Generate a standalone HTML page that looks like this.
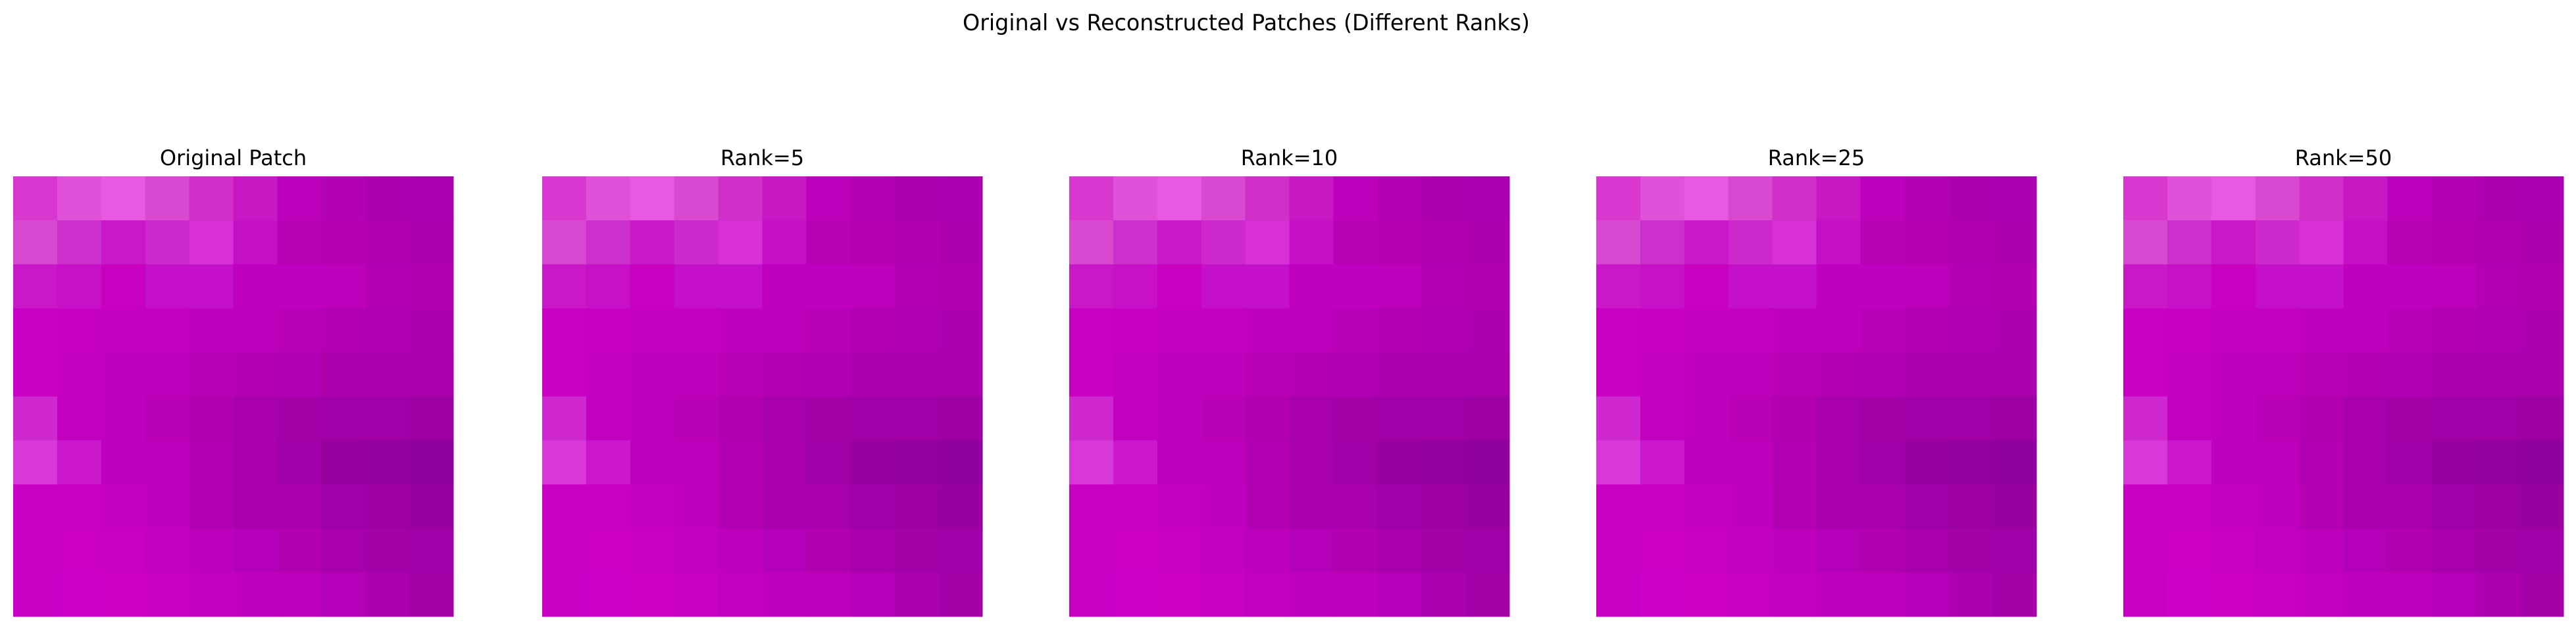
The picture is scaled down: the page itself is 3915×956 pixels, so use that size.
<!DOCTYPE html>
<html><head><meta charset="utf-8"><style>
html,body{margin:0;padding:0;background:#fff;width:3915px;height:956px;overflow:hidden}
svg{display:block}
text{font-family:"DejaVu Sans","Liberation Sans",sans-serif;fill:#000}
</style></head><body>
<svg id="fig" width="3915" height="956" viewBox="0 0 3915 956">
<text x="1894" y="46" font-size="34" text-anchor="middle" textLength="862" lengthAdjust="spacingAndGlyphs">Original vs Reconstructed Patches (Different Ranks)</text>
<g id="panels"></g>
</svg>
<script>
const titles = ["Original Patch","Rank=5","Rank=10","Rank=25","Rank=50"];
const panelLeft = [20, 824, 1625, 2426, 3227];
const grid = [
["d838d0","e050d8","e858e0","d848d0","d030c8","c818c4","bc00bc","b400b4","ac00b0","a800b0"],
["d848d0","cc30cc","c818c8","cc28cc","d830d8","c410c4","b800b4","b400b0","b000b0","ac00b0"],
["c818c8","c810c8","c800c0","c410c8","c410c8","c000c0","c000c0","bc00bc","b400b4","b000b0"],
["c800c4","c600c2","c400c0","c200c0","c000c0","bc00bc","b800b8","b400b4","b000b4","ac00b0"],
["c800c4","c400c0","c000c0","bc00bc","b800b8","b400b4","b000b4","ac00ac","a800ac","a800ac"],
["d028d0","c400c0","c000c0","b800b8","b000b0","a800ac","a400a8","a000a8","a000a8","9c00a4"],
["d838d8","cc18cc","c000c0","bc00bc","b400b4","a800ac","a000a8","9800a0","9400a0","9000a0"],
["c800c4","c800c4","c400c0","c000c0","b400b4","a800ac","a800ac","a000a8","9c00a4","9800a0"],
["c800c4","cc00c4","c800c0","c400c0","bc00bc","b400b8","b000b0","a800ac","a400a8","a000a8"],
["c800c4","cc00c8","cc00c4","c800c4","c400c0","c000c0","bc00bc","b400b8","ac00b0","a400a8"]
];
const NS = "http://www.w3.org/2000/svg";
const g = document.getElementById('panels');
const top0 = 268, size = 669;
titles.forEach((t, p) => {
  const x0 = panelLeft[p];
  const pg = document.createElementNS(NS, 'g');
  
  
  const n = grid.length, cs = size / n;
  grid.forEach((row, r) => row.forEach((c, k) => {
    const rc = document.createElementNS(NS, 'rect');
    
    
    rc.setAttribute('x', x0 + k * cs);
    rc.setAttribute('y', top0 + r * cs);
    rc.setAttribute('width', cs + 0.5);
    rc.setAttribute('height', cs + 0.5);
    rc.setAttribute('fill', '#' + c);
    pg.appendChild(rc);
  }));
  const tx = document.createElementNS(NS, 'text');
  
  
  tx.setAttribute('x', x0 + size / 2);
  tx.setAttribute('y', 251);
  tx.setAttribute('font-size', '32');
  tx.setAttribute('text-anchor', 'middle');
  tx.textContent = t;
  pg.appendChild(tx);
  g.appendChild(pg);
});
</script>
</body></html>
